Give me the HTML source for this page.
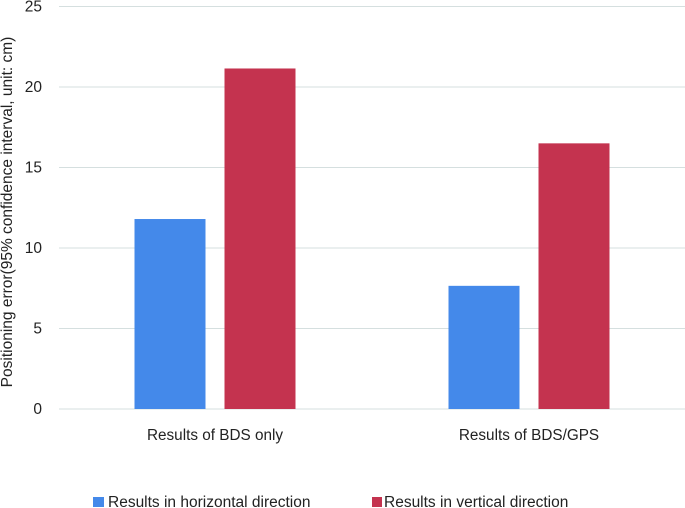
<!DOCTYPE html>
<html><head><meta charset="utf-8"><style>
body{margin:0;background:#fff}
svg{display:block;font-family:"Liberation Sans",sans-serif}
</style></head><body>
<svg id="chart" width="685" height="508" viewBox="0 0 685 508">
<g id="grid"></g>
<g id="yticks"></g>
<g id="bars"></g>
<g id="xlabels"></g>
<text transform="translate(12,212) rotate(-90)" text-anchor="middle" font-size="15.5" fill="#222">Positioning error(95% confidence interval, unit: cm)</text>
<g>
<rect x="93" y="497" width="11" height="10" fill="#4489ea"/>
<text x="108" y="507" font-size="15.5" fill="#222">Results in horizontal direction</text>
<rect x="372" y="497" width="10" height="10" fill="#c4334f"/>
<text x="384" y="507" font-size="15.5" fill="#222">Results in vertical direction</text>
</g>
</svg>
<script>
const categories = ["Results of BDS only", "Results of BDS/GPS"];
const horizontal = [11.8, 7.65];
const vertical = [21.15, 16.5];
const yTicks = [0, 5, 10, 15, 20, 25];
const NS = "http://www.w3.org/2000/svg";
const x0 = 58, x1 = 686, yBase = 409, yTop = 6.5, yMax = 25;
const yS = v => yBase - (yBase - yTop) * v / yMax;
const band = (x1 - x0) / categories.length;
const cx = i => x0 + band * (i + 0.5);
function mk(tag, attrs, parent) { const e = document.createElementNS(NS, tag); for (const k in attrs) e.setAttribute(k, attrs[k]); parent.appendChild(e); return e; }
const grid = document.getElementById('grid'), yt = document.getElementById('yticks');
yTicks.forEach(t => {
  const l = mk('line', {x1: 59, x2: 685, y1: yS(t), y2: yS(t), stroke: '#d5dfdf', 'stroke-width': 1}, grid);
  
  
  const tx = mk('text', {x: 42, y: yS(t) + 5, 'text-anchor': 'end', 'font-size': 15.5, fill: '#222'}, yt);
  tx.textContent = t;
  
  
});
const bars = document.getElementById('bars'), xl = document.getElementById('xlabels');
categories.forEach((c, i) => {
  const bw = 71, gap = 19;
  const b1 = mk('rect', {x: cx(i) - gap / 2 - bw, y: yS(horizontal[i]), width: bw, height: yBase - yS(horizontal[i]), fill: '#4489ea'}, bars);
  
  
  const b2 = mk('rect', {x: cx(i) + gap / 2, y: yS(vertical[i]), width: bw, height: yBase - yS(vertical[i]), fill: '#c4334f'}, bars);
  
  
  const t = mk('text', {x: cx(i), y: 440, 'text-anchor': 'middle', 'font-size': 15.3, fill: '#222'}, xl);
  t.textContent = c;
  
  
});
</script>
</body></html>
